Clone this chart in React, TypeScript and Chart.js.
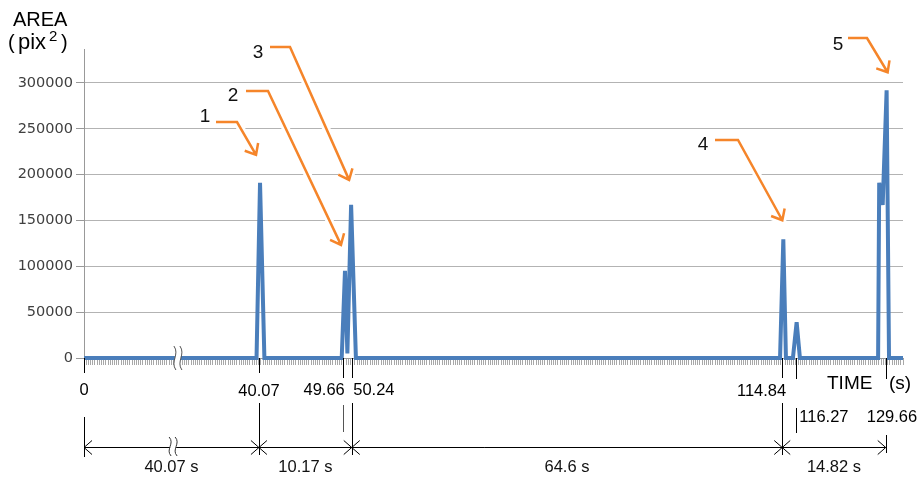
import React, { useEffect, useRef } from 'react';
import { Chart, registerables } from 'chart.js';

Chart.register(...registerables);

// ---- data (sample index on the category-like time axis, area in pix²) ----
const sampleIndex = [0, 79, 80.6, 82.6, 118, 119.5, 120.6, 122.3, 124.5, 318.7, 320.2, 321.4, 324.6, 326.3, 327.8, 363.6, 364.1, 365.7, 367.5, 368.6, 375];
const areaValues = [0, 0, 191000, 0, 0, 95000, 5000, 167000, 0, 0, 129500, 0, 0, 39000, 0, 0, 191000, 167000, 292000, 0, 0];
const sampleCount = 375;
const yTickValues = [0, 50000, 100000, 150000, 200000, 250000, 300000];
const yMax = 337000;

// time annotations (label text + sample index where it sits)
const timeLabels = ['0', '40.07', '49.66', '50.24', '114.84', '116.27', '129.66'];
const timeIndex = [0, 80.1, 118.7, 122.6, 319.7, 325.9, 367.1];
const intervalLabels = ['40.07 s', '10.17 s', '64.6 s', '14.82 s'];
const intervalBounds = [[0, 1], [1, 3], [3, 4], [4, 6]];
const peakLabels = ['1', '2', '3', '4', '5'];
const peakPoint = [2, 5, 7, 10, 18];
const breakIndexAxis = 43;
const breakIndexDim = 40.8;

// ---- layout for annotations (pixels) ----
const timeLayout = [
  { tickEnd: 373, align: 'center', dx: 0, ly: 390, extTop: 417, extBot: 457, mark: 'left', color: '#000' },
  { tickEnd: 373, align: 'center', dx: 0, ly: 391, extTop: 403, extBot: 455, mark: 'cross', color: '#000' },
  { tickEnd: 378, align: 'right', dx: 1.5, ly: 390, extTop: 405, extBot: 432, mark: 'none', color: '#555' },
  { tickEnd: 378, align: 'left', dx: 1.5, ly: 390, extTop: 403, extBot: 455, mark: 'cross', color: '#000' },
  { tickEnd: 378, align: 'right', dx: 4, ly: 391, extTop: 403, extBot: 455, mark: 'cross', color: '#000' },
  { tickEnd: 379, align: 'left', dx: 3.5, ly: 417, extTop: 408, extBot: 433, mark: 'none', color: '#000' },
  { tickEnd: 379, align: 'left', dx: -19, ly: 417, extTop: 435, extBot: 453, mark: 'right', color: '#000' },
];
const calloutLayout = [
  { lx: 205, ly: 117, sx: 216, sy: 122, cx: 237, dx: -4, dy: -28 },
  { lx: 233, ly: 96, sx: 246, sy: 91, cx: 268, dx: -4, dy: -26 },
  { lx: 258, ly: 53, sx: 270, sy: 47, cx: 290, dx: -2, dy: -25 },
  { lx: 703, ly: 145, sx: 715, sy: 140, cx: 738, dx: -1, dy: -19 },
  { lx: 838, ly: 45, sx: 848, sy: 38, cx: 867, dx: 1, dy: -18 },
];
const dimY = 447;
const ORANGE = '#f5852a';
const SANS = '"Liberation Sans", Arial, sans-serif';

const crisp = (v: number) => Math.round(v) + 0.5;

function line(ctx: CanvasRenderingContext2D, x1: number, y1: number, x2: number, y2: number) {
  ctx.beginPath();
  ctx.moveTo(x1, y1);
  ctx.lineTo(x2, y2);
  ctx.stroke();
}

function drawBreak(ctx: CanvasRenderingContext2D, cx: number, top: number, h: number, color: string) {
  ctx.save();
  ctx.fillStyle = '#fff';
  ctx.fillRect(cx - 3, top + 2, 6, h - 4);
  ctx.strokeStyle = color;
  ctx.lineWidth = 1;
  for (const off of [-3, 3]) {
    const x = cx + off;
    ctx.beginPath();
    ctx.moveTo(x - 1, top);
    ctx.bezierCurveTo(x + 5, top + h * 0.35, x - 5, top + h * 0.65, x + 1, top + h);
    ctx.stroke();
  }
  ctx.restore();
}

const calloutPlugin = {
  id: 'callouts',
  beforeDatasetsDraw(chart: any) {
    const ctx: CanvasRenderingContext2D = chart.ctx;
    const xs = chart.scales.x;
    const ys = chart.scales.y;
    ctx.save();
    peakLabels.forEach((lab, i) => {
      const L = calloutLayout[i];
      const p = peakPoint[i];
      const tx = xs.getPixelForValue(sampleIndex[p]) + L.dx;
      const ty = ys.getPixelForValue(areaValues[p]) + L.dy;
      const ang = Math.atan2(ty - L.sy, tx - L.cx);
      const back = ang + Math.PI;
      const a1 = back - 0.7, a2 = back + 0.7, al = 12;
      const path = () => {
        ctx.beginPath();
        ctx.moveTo(L.sx, L.sy);
        ctx.lineTo(L.cx, L.sy);
        ctx.lineTo(tx, ty);
        ctx.moveTo(tx + Math.cos(a1) * al, ty + Math.sin(a1) * al);
        ctx.lineTo(tx, ty);
        ctx.lineTo(tx + Math.cos(a2) * al, ty + Math.sin(a2) * al);
      };
      ctx.lineJoin = 'miter';
      ctx.lineCap = 'butt';
      path();
      ctx.strokeStyle = '#fff';
      ctx.lineWidth = 8;
      ctx.stroke();
      path();
      ctx.strokeStyle = ORANGE;
      ctx.lineWidth = 2.5;
      ctx.stroke();
      ctx.fillStyle = '#111';
      ctx.font = `19px ${SANS}`;
      ctx.textAlign = 'center';
      ctx.textBaseline = 'middle';
      ctx.fillText(lab, L.lx, L.ly);
    });
    ctx.restore();
  },
  afterDraw(chart: any) {
    const ctx: CanvasRenderingContext2D = chart.ctx;
    const xs = chart.scales.x;
    const base = chart.chartArea.bottom;
    ctx.save();
    // axis break
    drawBreak(ctx, xs.getPixelForValue(breakIndexAxis), base - 12, 24, '#555');

    // time ticks & labels
    ctx.lineWidth = 1;
    timeLabels.forEach((lab, i) => {
      const L = timeLayout[i];
      const x = xs.getPixelForValue(timeIndex[i]);
      const cxp = crisp(x);
      ctx.strokeStyle = '#000';
      line(ctx, cxp, base, cxp, L.tickEnd);
      ctx.strokeStyle = L.color;
      line(ctx, cxp, L.extTop, cxp, L.extBot);
      ctx.fillStyle = '#000';
      ctx.font = `16.5px ${SANS}`;
      ctx.textAlign = L.align as CanvasTextAlign;
      ctx.textBaseline = 'middle';
      ctx.fillText(lab, x + L.dx, L.ly);
      // dimension marks
      ctx.strokeStyle = '#000';
      const y = dimY + 0.5;
      if (L.mark === 'cross') {
        line(ctx, x - 8, y - 7, x + 8, y + 7);
        line(ctx, x - 8, y + 7, x + 8, y - 7);
      } else if (L.mark === 'left') {
        line(ctx, x + 8, y - 7, x, y);
        line(ctx, x, y, x + 8, y + 7);
      } else if (L.mark === 'right') {
        line(ctx, x - 8, y - 7, x, y);
        line(ctx, x, y, x - 8, y + 7);
      }
    });
    // dimension line
    const x0 = xs.getPixelForValue(timeIndex[0]);
    const x1 = xs.getPixelForValue(timeIndex[timeIndex.length - 1]);
    ctx.strokeStyle = '#000';
    line(ctx, x0, dimY + 0.5, x1, dimY + 0.5);
    drawBreak(ctx, xs.getPixelForValue(breakIndexDim), dimY - 10, 19, '#333');

    // interval labels
    ctx.fillStyle = '#111';
    ctx.font = `16.5px ${SANS}`;
    ctx.textAlign = 'center';
    ctx.textBaseline = 'middle';
    intervalLabels.forEach((lab, i) => {
      const [a, b] = intervalBounds[i];
      const m = (xs.getPixelForValue(timeIndex[a]) + xs.getPixelForValue(timeIndex[b])) / 2;
      ctx.fillText(lab, m, 467);
    });

    // axis titles
    ctx.fillStyle = '#000';
    ctx.textAlign = 'left';
    ctx.textBaseline = 'alphabetic';
    ctx.font = `20px ${SANS}`;
    ctx.fillText('AREA', 13, 26);
    ctx.fillText('(', 8, 49);
    ctx.fillText(')', 61, 49);
    ctx.font = `22px ${SANS}`;
    ctx.fillText('pix', 18, 49);
    ctx.font = `15px ${SANS}`;
    ctx.fillText('2', 49, 41);
    ctx.font = `19px ${SANS}`;
    ctx.fillText('TIME', 827, 389);
    ctx.fillText('(s)', 889, 389);
    ctx.restore();
  },
};

export default function App() {
  const ref = useRef<HTMLCanvasElement>(null);
  useEffect(() => {
    const canvas = ref.current;
    if (!canvas) return;
    const chart = new Chart(canvas, {
      type: 'line',
      data: {
        datasets: [
          {
            data: sampleIndex.map((x, i) => ({ x, y: areaValues[i] })),
            borderColor: '#4a7ebb',
            backgroundColor: '#4a7ebb',
            borderWidth: 4,
            pointRadius: 0,
            tension: 0,
            fill: false,
            clip: false as any,
            borderJoinStyle: 'miter',
          },
        ],
      },
      options: {
        animation: false,
        responsive: true,
        maintainAspectRatio: false,
        layout: { padding: { top: 49, right: 16, bottom: 0, left: 0 } },
        plugins: { legend: { display: false }, tooltip: { enabled: false } },
        scales: {
          x: {
            type: 'linear',
            min: 0,
            max: sampleCount,
            ticks: { display: false, stepSize: 1, autoSkip: false },
            grid: { drawOnChartArea: false, tickLength: 7, color: '#a8a8a8', lineWidth: 1 },
            border: { display: true, color: '#999' },
            afterFit: (s: any) => {
              s.height = 121;
            },
          },
          y: {
            min: 0,
            max: yMax,
            afterBuildTicks: (s: any) => {
              s.ticks = yTickValues.map((v) => ({ value: v }));
            },
            ticks: {
              autoSkip: false,
              padding: 3,
              color: '#404040',
              font: { family: 'DejaVu Sans', size: 14.5 },
              callback: (v: any) => String(v),
            },
            grid: { color: '#b3b3b3', tickLength: 8, tickColor: '#999', lineWidth: 1 },
            border: { display: true, color: '#999' },
            afterFit: (s: any) => {
              s.width = 84;
            },
          },
        },
      },
      plugins: [calloutPlugin],
    } as any);
    return () => chart.destroy();
  }, []);
  return (
    <div style={{ position: 'fixed', left: 0, top: 0, width: 919, height: 479, background: '#fff' }}>
      <canvas ref={ref} />
    </div>
  );
}
